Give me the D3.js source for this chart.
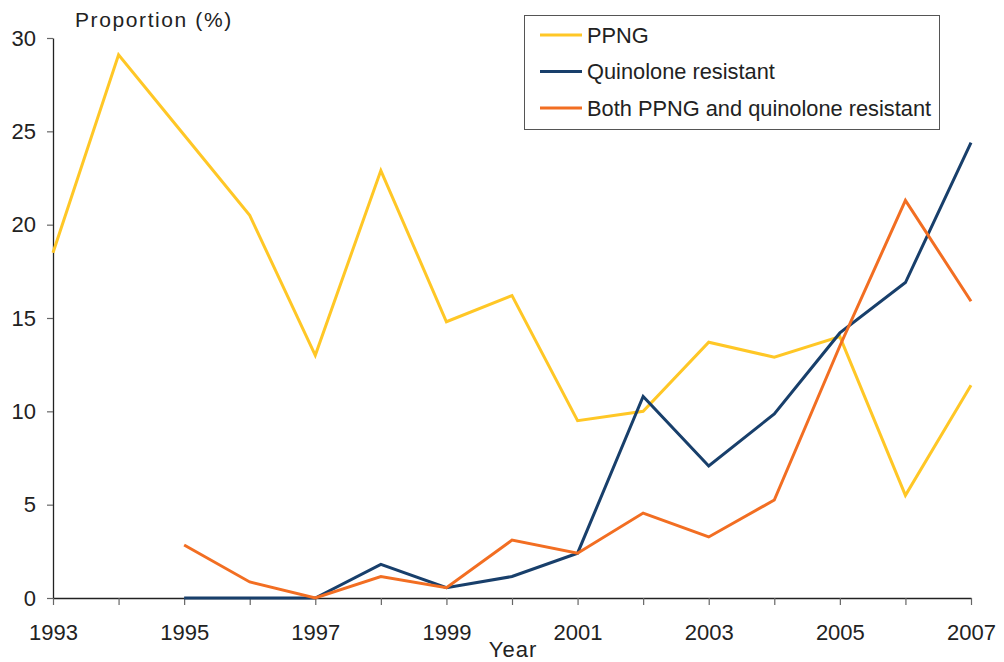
<!DOCTYPE html>
<html>
<head>
<meta charset="utf-8">
<script src="https://cdn.jsdelivr.net/npm/d3@7"></script>
<style>
	body { margin: 0; background: #fff; }
	text { font-family: "Liberation Sans", Arial, sans-serif; fill: #222; }
	.axis path { stroke: #222; stroke-width: 1.3; }
	.axis line { stroke: #666; stroke-width: 1.2; }
</style>
</head>
<body>
<div id="vis"></div>
<script>
// chart values
var years = [1993, 1994, 1995, 1996, 1997, 1998, 1999, 2000, 2001, 2002, 2003, 2004, 2005, 2006, 2007];
var ppng = [18.5, 29.1, 24.8, 20.5, 13.0, 22.9, 14.8, 16.2, 9.5, 10.0, 13.7, 12.9, 14.0, 5.5, 11.4];
var quinolone = [null, null, 0, 0, 0, 1.8, 0.55, 1.15, 2.4, 10.8, 7.07, 9.86, 14.2, 16.9, 24.4];
var both = [null, null, 2.84, 0.86, 0, 1.15, 0.55, 3.1, 2.4, 4.55, 3.27, 5.25, 13.5, 21.3, 15.9];
var yTicks = [0, 5, 10, 15, 20, 25, 30];
var xLabels = [1993, 1995, 1997, 1999, 2001, 2003, 2005, 2007];
var seriesNames = ['PPNG', 'Quinolone resistant', 'Both PPNG and quinolone resistant'];
var seriesColors = ['#FFC726', '#183F6B', '#F26E22'];

var width = 1004, height = 662;
var svg = d3.select('#vis').append('svg')
	.attr('width', width)
	.attr('height', height);

var x = d3.scaleLinear().domain([1993, 2007]).range([53, 971]);
var y = d3.scaleLinear().domain([0, 30]).range([598, 38]);

// y axis
var yAxis = svg.append('g')
	.attr('class', 'axis')
	.attr('transform', 'translate(53,0)')
	.call(d3.axisLeft(y).tickValues(yTicks).tickSize(6).tickPadding(11).tickSizeOuter(0));
yAxis.selectAll('text').style('font-size', '22px');

// x axis - tick every year, label every second
var xAxis = svg.append('g')
	.attr('class', 'axis')
	.attr('transform', 'translate(0,598)')
	.call(d3.axisBottom(x).tickValues(years).tickSize(7).tickPadding(19).tickSizeOuter(0)
		.tickFormat(function(d) { return xLabels.indexOf(d) >= 0 ? d : ''; }));
xAxis.selectAll('text').style('font-size', '22px');

// axis titles
svg.append('text')
	.attr('x', 75)
	.attr('y', 27)
	.style('font-size', '21px')
	.style('letter-spacing', '1.6px')
	.text('Proportion (%)');
svg.append('text')
	.attr('x', 513)
	.attr('y', 657)
	.attr('text-anchor', 'middle')
	.style('font-size', '22px')
	.style('letter-spacing', '1px')
	.text('Year');

// lines
var allSeries = [ppng, quinolone, both];
var line = d3.line()
	.defined(function(d) { return d != null; })
	.x(function(d, i) { return x(years[i]); })
	.y(function(d) { return y(d); });

allSeries.forEach(function(s, k) {
	svg.append('path')
		.datum(s)
		.attr('d', line)
		.attr('fill', 'none')
		.attr('stroke', seriesColors[k])
		.attr('stroke-width', 3)
		.attr('stroke-linejoin', 'miter');
});

// legend
var legend = svg.append('g');
legend.append('rect')
	.attr('x', 524.5)
	.attr('y', 15.5)
	.attr('width', 415)
	.attr('height', 114)
	.attr('fill', '#fff')
	.attr('stroke', '#555')
	.attr('stroke-width', 1);

seriesNames.forEach(function(name, k) {
	var ly = 35 + k * 36.5;
	legend.append('line')
		.attr('x1', 540)
		.attr('x2', 582)
		.attr('y1', ly)
		.attr('y2', ly)
		.attr('stroke', seriesColors[k])
		.attr('stroke-width', 3);
	legend.append('text')
		.attr('x', 587)
		.attr('y', ly + 7.5)
		.style('font-size', '21.8px')
		.text(name);
});
</script>
</body>
</html>
